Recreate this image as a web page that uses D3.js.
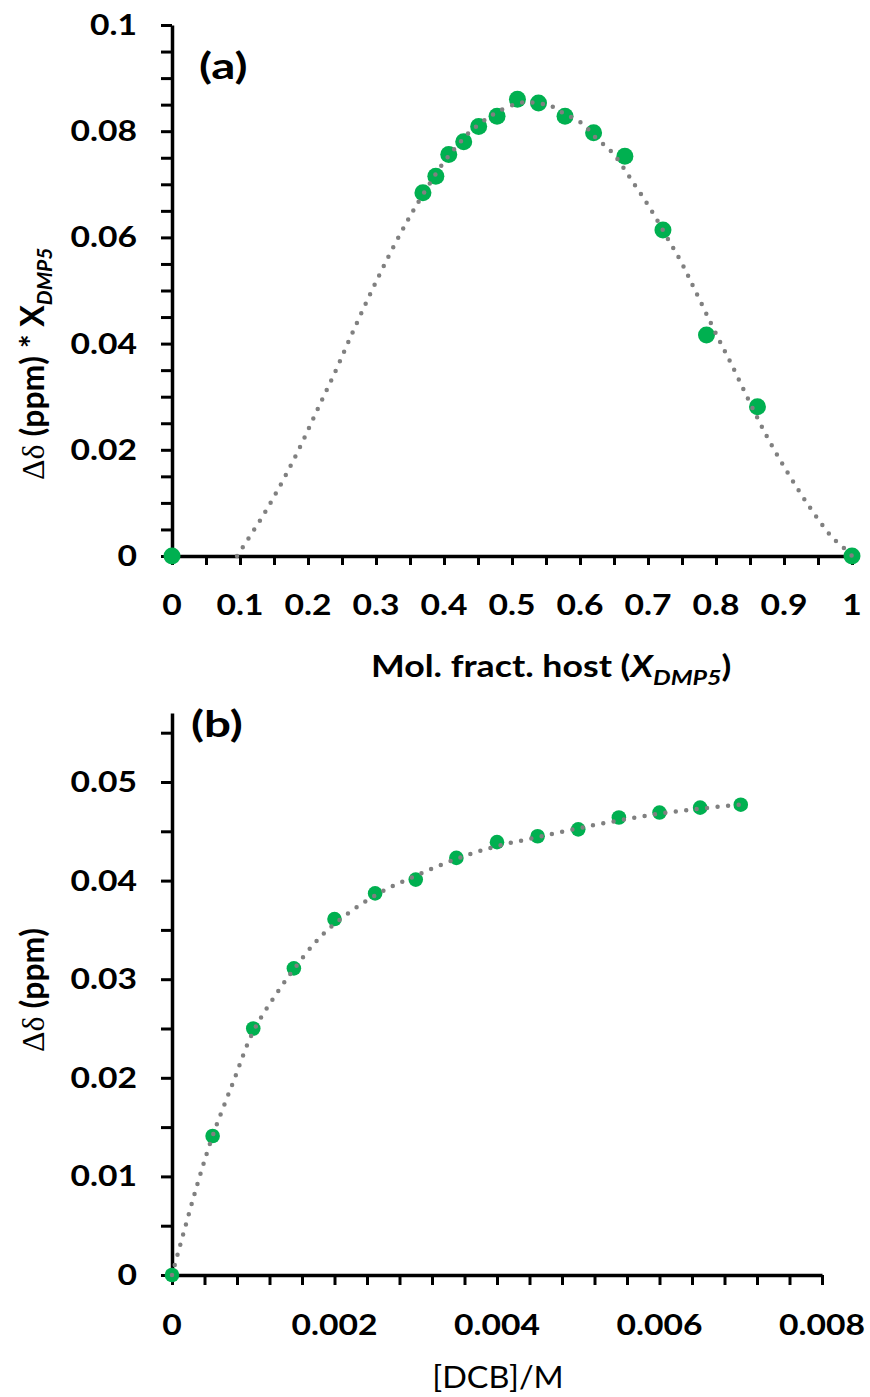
<!DOCTYPE html>
<html>
<head>
<meta charset="utf-8">
<script src="https://cdn.jsdelivr.net/npm/d3@7"></script>
<style>
  html, body { margin: 0; padding: 0; background: #fff; }
  svg { display: block; }
  text { font-family: Lato, "Open Sans", sans-serif; fill: #000; }
</style>
</head>
<body>
<svg id="chart" width="870" height="1397"></svg>
<script>
// ---------- Panel (a): Job plot ----------
const jobX = [0, 0.369, 0.388, 0.407, 0.429, 0.451, 0.478, 0.508, 0.539, 0.578, 0.620, 0.666, 0.722, 0.786, 0.861, 1];
const jobY = [0, 0.0684, 0.0715, 0.0756, 0.0780, 0.0809, 0.0828, 0.0860, 0.0853, 0.0828, 0.0797, 0.0753, 0.0614, 0.0416, 0.0281, 0];
// dotted trend line
const jobFitX = [0.0956, 0.1328, 0.1622, 0.1893, 0.2143, 0.2397, 0.2642, 0.2892, 0.3152, 0.3431, 0.3578, 0.3966, 0.4176, 0.4358, 0.4578, 0.4824, 0.5107, 0.524, 0.540, 0.5549, 0.5755, 0.605, 0.6221, 0.6466, 0.681, 0.7054, 0.7275, 0.7495, 0.769, 0.801, 0.8216, 0.8475, 0.8745, 0.904, 0.9357, 0.971, 0.9945, 1];
const jobFitY = [0, 0.0074, 0.0140, 0.0208, 0.0277, 0.0346, 0.0417, 0.0487, 0.0556, 0.0624, 0.0657, 0.0736, 0.0770, 0.0796, 0.0819, 0.0839, 0.0853, 0.0855, 0.0852, 0.0849, 0.0834, 0.0813, 0.0789, 0.0761, 0.0698, 0.0650, 0.0601, 0.0552, 0.0501, 0.0416, 0.0364, 0.0295, 0.0226, 0.0160, 0.0096, 0.0035, 0.0008, 0];
const jobXTicks = [0, 0.1, 0.2, 0.3, 0.4, 0.5, 0.6, 0.7, 0.8, 0.9, 1];
const jobYTicks = [0, 0.02, 0.04, 0.06, 0.08, 0.1];
const jobXTickLabels = ["0", "0.1", "0.2", "0.3", "0.4", "0.5", "0.6", "0.7", "0.8", "0.9", "1"];
const jobYTickLabels = ["0", "0.02", "0.04", "0.06", "0.08", "0.1"];

// ---------- Panel (b): titration ----------
const titX = [0, 0.0005, 0.001, 0.0015, 0.002, 0.0025, 0.003, 0.0035, 0.004, 0.0045, 0.005, 0.0055, 0.006, 0.0065, 0.007];
const titY = [0, 0.0141, 0.0250, 0.0311, 0.0361, 0.0387, 0.0401, 0.0423, 0.0439, 0.0445, 0.0452, 0.0464, 0.0469, 0.0474, 0.0477];
const titFitX = [0, 0.00016, 0.00033, 0.0005, 0.00075, 0.001, 0.0013, 0.0015, 0.00176, 0.002, 0.0025, 0.003, 0.0035, 0.004, 0.0045, 0.005, 0.0055, 0.006, 0.0065, 0.007];
const titFitY = [0, 0.0048, 0.0097, 0.0141, 0.0195, 0.0247, 0.0287, 0.0310, 0.0337, 0.0356, 0.0385, 0.0405, 0.0422, 0.0435, 0.0444, 0.0453, 0.0461, 0.0468, 0.0473, 0.0477];
const titXTicks = [0, 0.002, 0.004, 0.006, 0.008];
const titYTicks = [0, 0.01, 0.02, 0.03, 0.04, 0.05];
const titXTickLabels = ["0", "0.002", "0.004", "0.006", "0.008"];
const titYTickLabels = ["0", "0.01", "0.02", "0.03", "0.04", "0.05"];

const GREEN = "#00b050";
const GREY = "#808080";
const SX = 1.16; // horizontal stretch of the reference lettering

const svg = d3.select("#chart");

function stretched(parent, x, y, sx) {
  return parent.append("text").attr("transform", `translate(${x},${y}) scale(${sx},1)`);
}

function panel(cfg) {
  const g = svg.append("g");
  const x = d3.scaleLinear().domain(cfg.xDomain).range(cfg.xRange);
  const y = d3.scaleLinear().domain(cfg.yDomain).range(cfg.yRange);

  const xAxis = d3.axisBottom(x).tickValues(cfg.xMinor).tickSize(cfg.xTickLen).tickSizeOuter(0).tickFormat("");
  const yAxis = d3.axisLeft(y).tickValues(cfg.yMinor).tickSize(cfg.yTickLen).tickSizeOuter(0).tickFormat("");
  const gx = g.append("g").attr("transform", `translate(0,${y(0)})`).call(xAxis);
  const gy = g.append("g").attr("transform", `translate(${x(0)},0)`).call(yAxis);
  [gx, gy].forEach(a => {
    a.select(".domain").attr("stroke", "#000").attr("stroke-width", 3.5);
    a.selectAll(".tick line").attr("stroke", "#000").attr("stroke-width", 3);
  });

  const lx = g.append("g");
  cfg.xTicks.forEach((d, i) => {
    stretched(lx, x(d), y(0) + cfg.xLabelOffset, SX)
      .attr("text-anchor", "middle").attr("font-weight", 700).attr("font-size", cfg.tickFont)
      .text(cfg.xTickLabels[i]);
  });
  const ly = g.append("g");
  cfg.yTicks.forEach((d, i) => {
    stretched(ly, x(0) - cfg.yLabelGap, y(d) + 10, SX)
      .attr("text-anchor", "end").attr("font-weight", 700).attr("font-size", cfg.tickFont)
      .text(cfg.yTickLabels[i]);
  });

  g.append("g").selectAll("circle").data(cfg.px.map((d, i) => [d, cfg.py[i]])).join("circle")
    .attr("cx", d => x(d[0])).attr("cy", d => y(d[1])).attr("r", cfg.r).attr("fill", GREEN);

  const line = d3.line().x(d => x(d[0])).y(d => y(d[1])).curve(d3.curveCatmullRom.alpha(0.5));
  g.append("path").datum(cfg.fx.map((d, i) => [d, cfg.fy[i]]))
    .attr("d", line).attr("fill", "none").attr("stroke", GREY)
    .attr("stroke-width", 4.5).attr("stroke-linecap", "round").attr("stroke-dasharray", "0 10.5");
  return {g, x, y};
}

panel({
  xDomain: [0, 1], xRange: [172, 852],
  yDomain: [0, 0.1], yRange: [556, 25],
  xMinor: d3.range(0, 21).map(i => i * 0.05), yMinor: d3.range(0, 21).map(i => i * 0.005),
  xTickLen: 9, yTickLen: 11,
  xTicks: jobXTicks, yTicks: jobYTicks,
  xTickLabels: jobXTickLabels, yTickLabels: jobYTickLabels,
  xLabelOffset: 59, yLabelGap: 35, tickFont: 29,
  px: jobX, py: jobY, fx: jobFitX, fy: jobFitY, r: 8.5
});

panel({
  xDomain: [0, 0.008], xRange: [172, 822],
  yDomain: [0, 0.057], yRange: [1275, 1275 - 0.057 * 9860],
  xMinor: d3.range(0, 21).map(i => i * 0.0004), yMinor: d3.range(0, 12).map(i => i * 0.005),
  xTickLen: 10, yTickLen: 11,
  xTicks: titXTicks, yTicks: titYTicks,
  xTickLabels: titXTickLabels, yTickLabels: titYTickLabels,
  xLabelOffset: 60, yLabelGap: 35, tickFont: 29,
  px: titX, py: titY, fx: titFitX, fy: titFitY, r: 7.3
});

// panel labels
stretched(svg, 199, 79, 1.32).attr("font-size", 36).attr("font-weight", 700).text("(a)");
stretched(svg, 191, 737, 1.32).attr("font-size", 36).attr("font-weight", 700).text("(b)");

// axis titles
const xt = stretched(svg, 371, 677, 1.19).attr("font-size", 30).attr("font-weight", 700);
xt.append("tspan").text("Mol. fract. host (");
xt.append("tspan").attr("font-style", "italic").text("X");
xt.append("tspan").attr("font-style", "italic").attr("font-size", 21).attr("dy", 8).text("DMP5");
xt.append("tspan").attr("dy", -8).text(")");

const yt = svg.append("text").attr("transform", "translate(44,480) rotate(-90)").attr("font-size", 32).attr("font-weight", 700);
yt.append("tspan").attr("font-family", "'Liberation Serif', 'DejaVu Serif', serif").attr("font-weight", 400).text("\u0394\u03b4");
yt.append("tspan").text(" (ppm) * X");
yt.append("tspan").attr("font-style", "italic").attr("font-size", 21).attr("dy", 8).text("DMP5");

stretched(svg, 498, 1388, 1.08).attr("text-anchor", "middle").attr("font-size", 30).text("[DCB]/M");

const yt2 = svg.append("text").attr("transform", "translate(44,1052) rotate(-90)").attr("font-size", 32).attr("font-weight", 700);
yt2.append("tspan").attr("font-family", "'Liberation Serif', 'DejaVu Serif', serif").attr("font-weight", 400).text("\u0394\u03b4");
yt2.append("tspan").text(" (ppm)");
</script>
</body>
</html>
